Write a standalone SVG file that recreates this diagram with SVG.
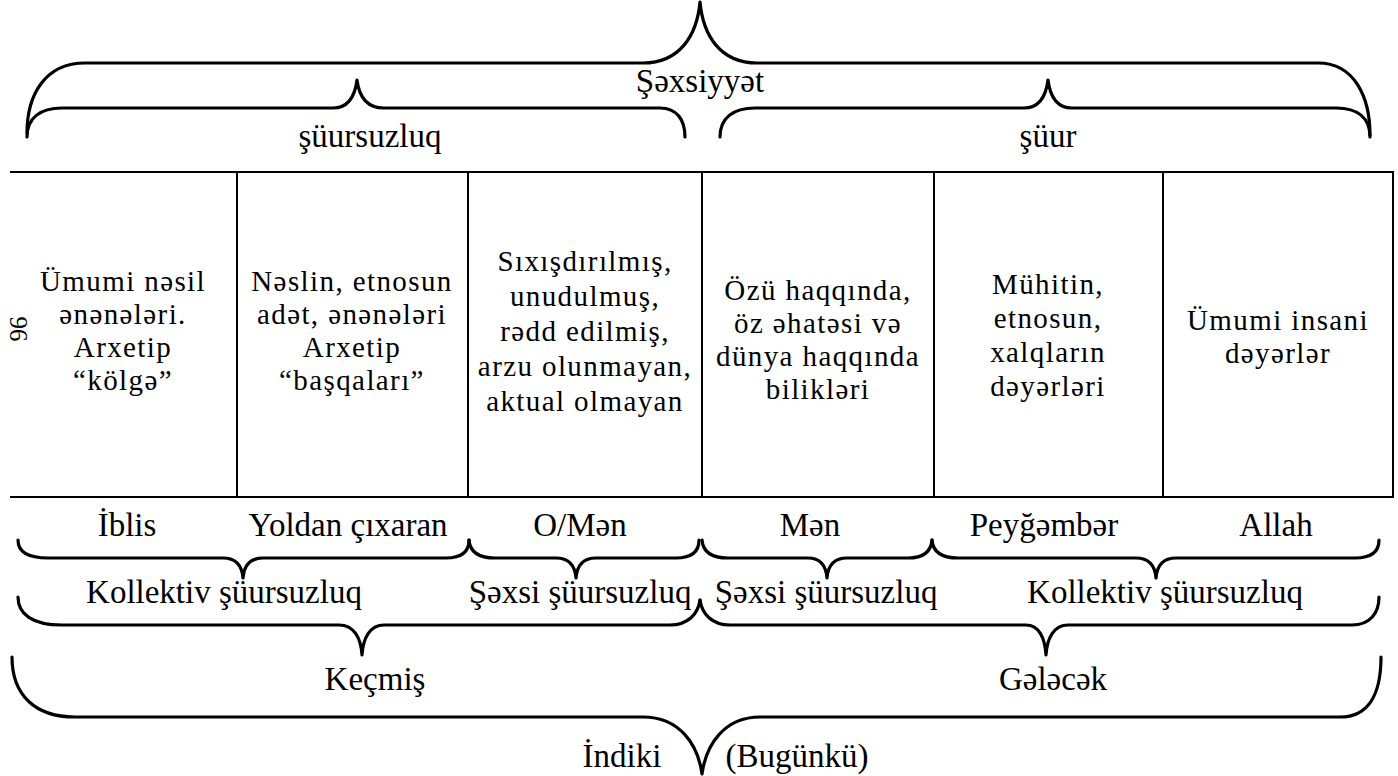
<svg xmlns="http://www.w3.org/2000/svg" width="1398" height="776" viewBox="0 0 1398 776">
<style>
text{font-family:"Liberation Serif","Times New Roman","DejaVu Serif",serif;font-size:33px;fill:#000;text-anchor:middle}
.cell{font-size:29px;letter-spacing:1.4px}
.brace{fill:none;stroke:#000;stroke-width:3.2;stroke-linecap:round;stroke-linejoin:round}
.grid{fill:none;stroke:#000;stroke-width:2}
.pg{font-size:25px}
</style>
<rect x="0" y="0" width="1398" height="776" fill="#fff"/>
<g id="connectors">
<path class="brace" d="M27,133 C27,95 45,63 85,63 L643,63 C680,63 697,35 700,2 C703,35 720,63 757,63 L1318,63 C1355,63 1370,98 1370,135"/>
<path class="brace" d="M27,137 C27,118 40,108 62,108 L333,108 C348,108 355,96 357,80 C359,96 366,108 384,108 L660,108 C677,108 685,120 685,137"/>
<path class="brace" d="M720,137 C720,118 733,108 755,108 L1024,108 C1039,108 1046,96 1048,80 C1050,96 1057,108 1072,108 L1336,108 C1358,108 1370,118 1370,137"/>
<path class="brace" d="M18,540 C18,552 28,558 48,558 L223,558 C236,558 242,566 243,578 C244,566 250,558 263,558 L446,558 C461,558 469,552 469,540"/>
<path class="brace" d="M469,540 C470,552 478,558 495,558 L556,558 C569,558 575,566 576,578 C577,566 583,558 596,558 L676,558 C691,558 699,552 699,540"/>
<path class="brace" d="M702,540 C703,552 711,558 728,558 L808,558 C821,558 826,566 827,578 C828,566 834,558 847,558 L908,558 C923,558 931,552 932,540"/>
<path class="brace" d="M932,540 C933,552 941,558 958,558 L1136,558 C1149,558 1155,566 1156,578 C1157,566 1163,558 1176,558 L1355,558 C1371,558 1379,552 1379,540"/>
<path class="brace" d="M18,597 C18,614 32,625 62,625 L339,625 C354,625 361,638 362,655 C363,638 370,625 384,625 L670,625 C688,625 698,614 700,600"/>
<path class="brace" d="M700,600 C702,614 712,625 730,625 L1026,625 C1039,625 1045,638 1046,655 C1047,638 1054,625 1068,625 L1352,625 C1370,625 1379,613 1379,597"/>
<path class="brace" d="M12,657 C12,695 35,717 75,717 L643,717 C680,717 698,745 702,774 C706,745 724,717 760,717 L1340,717 C1368,717 1381,695 1381,657"/>
</g>
<g id="table">
<line class="grid" x1="10" y1="172" x2="1394" y2="172"/>
<line class="grid" x1="10" y1="497" x2="1394" y2="497"/>
<line class="grid" x1="237" y1="172" x2="237" y2="497"/>
<line class="grid" x1="468" y1="172" x2="468" y2="497"/>
<line class="grid" x1="702" y1="172" x2="702" y2="497"/>
<line class="grid" x1="934" y1="172" x2="934" y2="497"/>
<line class="grid" x1="1163" y1="172" x2="1163" y2="497"/>
<line class="grid" x1="1393" y1="172" x2="1393" y2="497"/>
</g>
<g id="top-labels">
<text x="700" y="92">Şəxsiyyət</text>
<text x="370" y="147">şüursuzluq</text>
<text x="1048" y="147">şüur</text>
</g>
<g id="cell1"><text class="cell" x="123" y="291">Ümumi nəsil<tspan x="123" y="324">ənənələri.</tspan><tspan x="123" y="357">Arxetip</tspan><tspan x="123" y="390">“kölgə”</tspan></text></g>
<g id="cell2"><text class="cell" x="352" y="291">Nəslin, etnosun<tspan x="352" y="324">adət, ənənələri</tspan><tspan x="352" y="357">Arxetip</tspan><tspan x="352" y="390">“başqaları”</tspan></text></g>
<g id="cell3"><text class="cell" x="585" y="271">Sıxışdırılmış,<tspan x="585" y="306">unudulmuş,</tspan><tspan x="585" y="341">rədd edilmiş,</tspan><tspan x="585" y="376">arzu olunmayan,</tspan><tspan x="585" y="411">aktual olmayan</tspan></text></g>
<g id="cell4"><text class="cell" x="818" y="300">Özü haqqında,<tspan x="818" y="333">öz əhatəsi və</tspan><tspan x="818" y="366">dünya haqqında</tspan><tspan x="818" y="399">bilikləri</tspan></text></g>
<g id="cell5"><text class="cell" x="1048" y="294">Mühitin,<tspan x="1048" y="328">etnosun,</tspan><tspan x="1048" y="362">xalqların</tspan><tspan x="1048" y="396">dəyərləri</tspan></text></g>
<g id="cell6"><text class="cell" x="1278" y="330">Ümumi insani<tspan x="1278" y="363">dəyərlər</tspan></text></g>
<g id="page-number"><text class="pg" transform="translate(10,329) rotate(90)" y="0">96</text></g>
<g id="names">
<text x="127" y="536">İblis</text>
<text x="348" y="536">Yoldan çıxaran</text>
<text x="580" y="536">O/Mən</text>
<text x="810" y="536">Mən</text>
<text x="1044" y="536">Peyğəmbər</text>
<text x="1276" y="536">Allah</text>
</g>
<g id="groups">
<text x="224" y="603">Kollektiv şüursuzluq</text>
<text x="580" y="603">Şəxsi şüursuzluq</text>
<text x="826" y="603">Şəxsi şüursuzluq</text>
<text x="1165" y="603">Kollektiv şüursuzluq</text>
</g>
<g id="time">
<text x="375" y="690">Keçmiş</text>
<text x="1053" y="690">Gələcək</text>
<text x="622" y="767">İndiki</text>
<text x="797" y="767">(Bugünkü)</text>
</g>
</svg>
